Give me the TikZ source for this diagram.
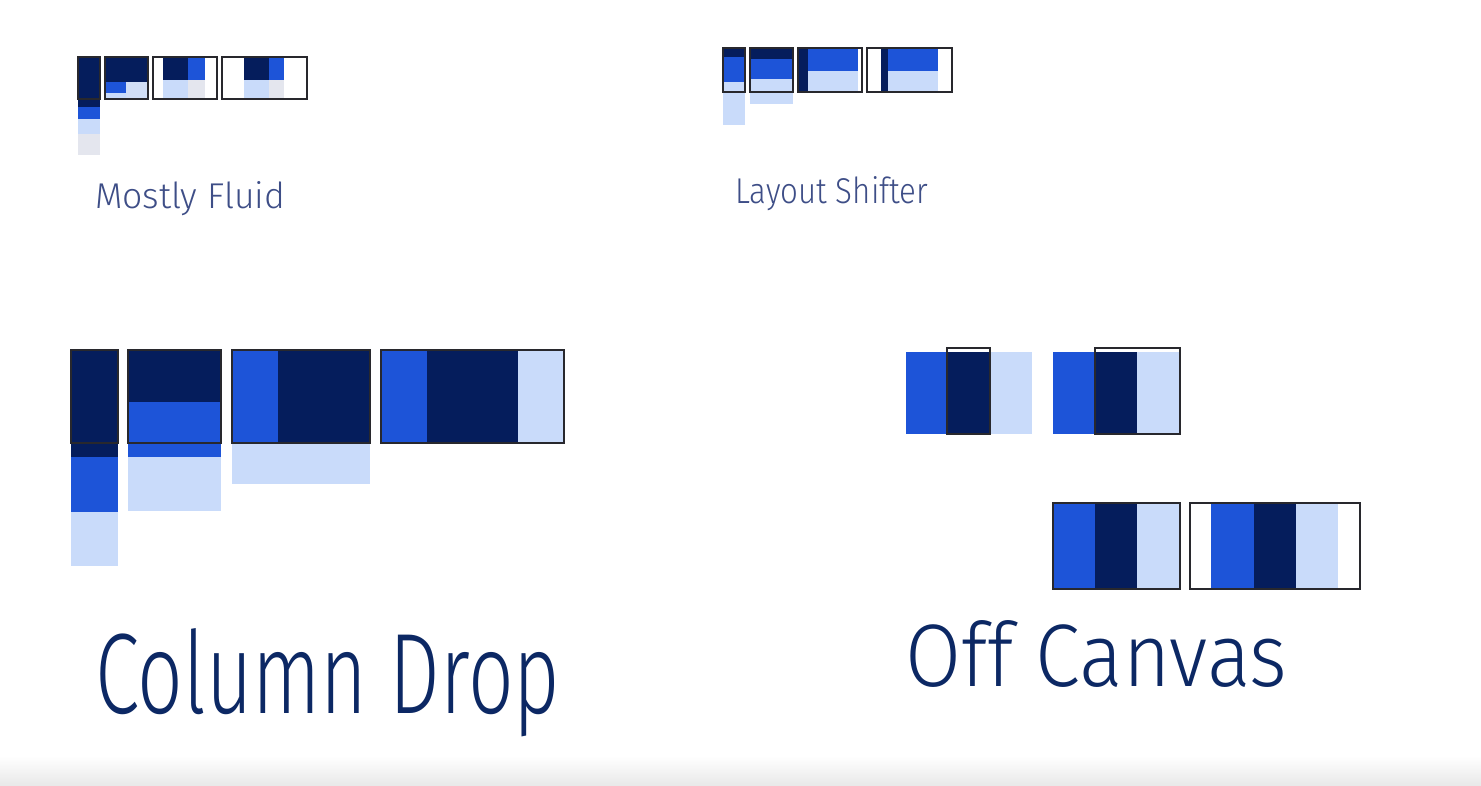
\documentclass[tikz,border=0pt]{standalone}
\usepackage{fontspec}
\usepackage{graphicx}
\newfontfamily\hand{Fira Sans Light}
\definecolor{navy}{RGB}{5,29,92}
\definecolor{mblue}{RGB}{29,84,216}
\definecolor{lblue}{RGB}{201,219,250}
\definecolor{lgrey}{RGB}{228,230,238}
\definecolor{frm}{RGB}{40,40,45}
\definecolor{inkS}{RGB}{62,78,135}
\definecolor{inkL}{RGB}{12,40,100}
\tikzset{
  nv/.style={fill=navy},
  bl/.style={fill=mblue},
  lb/.style={fill=lblue},
  gr/.style={fill=lgrey},
  lg/.style={fill=lblue!70!lgrey},
  frame/.style={draw=frm, line width=1.8pt},
  lab/.style={anchor=base west, inner sep=0pt},
}
\begin{document}
\begin{tikzpicture}[x=1pt,y=-1pt]
\fill[white] (0,0) rectangle (1481,786);
\useasboundingbox (0,0) rectangle (1481,786);
\shade[top color=white, bottom color=black!9] (0,756) rectangle (1481,786);

% ---------- Mostly Fluid ----------
\fill[nv] (78,57) rectangle (100,107);
\fill[bl] (78,107) rectangle (100,119);
\fill[lb] (78,119) rectangle (100,134);
\fill[gr] (78,134) rectangle (100,155);
\draw[frame] (78,57) rectangle (100,99);

\fill[nv] (105,57) rectangle (148,82);
\fill[bl] (105,82) rectangle (126,93);
\fill[lb] (105,93) rectangle (126,99);
\fill[lg] (126,82) rectangle (148,99);
\draw[frame] (105,57) rectangle (148,99);

\fill[nv] (163,57) rectangle (188,80);
\fill[bl] (188,57) rectangle (205,80);
\fill[lb] (163,80) rectangle (188,99);
\fill[gr] (188,80) rectangle (205,99);
\draw[frame] (153,57) rectangle (217,99);

\fill[nv] (244,57) rectangle (269,80);
\fill[bl] (269,57) rectangle (284,80);
\fill[lb] (244,80) rectangle (269,99);
\fill[gr] (269,80) rectangle (284,99);
\draw[frame] (222,57) rectangle (307,99);

\node[lab, text=inkS] (mf) at (95,209) {\hand\resizebox{190pt}{27pt}{Mostly Fluid}};

% ---------- Layout Shifter ----------
\fill[nv] (723,48) rectangle (745,57);
\fill[bl] (723,57) rectangle (745,82);
\fill[lb] (723,82) rectangle (745,125);
\draw[frame] (723,48) rectangle (745,92);

\fill[nv] (750,48) rectangle (793,59);
\fill[bl] (750,59) rectangle (793,79);
\fill[lb] (750,79) rectangle (793,104);
\draw[frame] (750,48) rectangle (793,92);

\fill[nv] (798,48) rectangle (808,92);
\fill[bl] (808,48) rectangle (858,71);
\fill[lb] (808,71) rectangle (858,92);
\draw[frame] (798,48) rectangle (862,92);

\fill[nv] (881,48) rectangle (888,92);
\fill[bl] (888,48) rectangle (938,71);
\fill[lb] (888,71) rectangle (938,92);
\draw[frame] (867,48) rectangle (952,92);

\node[lab, text=inkS] (ls) at (735,204) {\hand\resizebox{193pt}{27pt}{Layout Shifter}};

% ---------- Column Drop ----------
\fill[nv] (71,350) rectangle (118,457);
\fill[bl] (71,457) rectangle (118,512);
\fill[lb] (71,512) rectangle (118,566);
\draw[frame] (71,350) rectangle (118,443);

\fill[nv] (128,350) rectangle (221,402);
\fill[bl] (128,402) rectangle (221,457);
\fill[lb] (128,457) rectangle (221,511);
\draw[frame] (128,350) rectangle (221,443);

\fill[bl] (232,350) rectangle (278,443);
\fill[nv] (278,350) rectangle (370,443);
\fill[lb] (232,443) rectangle (370,484);
\draw[frame] (232,350) rectangle (370,443);

\fill[bl] (381,350) rectangle (427,443);
\fill[nv] (427,350) rectangle (518,443);
\fill[lb] (518,350) rectangle (564,443);
\draw[frame] (381,350) rectangle (564,443);

\node[lab, text=inkL] (cd) at (95,713) {\hand\resizebox{465pt}{85pt}{Column Drop}};

% ---------- Off Canvas ----------
\fill[bl] (906,352) rectangle (947,434);
\fill[nv] (947,352) rectangle (990,434);
\fill[lb] (990,352) rectangle (1032,434);
\draw[frame] (947,348) rectangle (990,434);

\fill[bl] (1053,352) rectangle (1095,434);
\fill[nv] (1095,352) rectangle (1137,434);
\fill[lb] (1137,352) rectangle (1180,434);
\draw[frame] (1095,348) rectangle (1180,434);

\fill[bl] (1053,503) rectangle (1095,589);
\fill[nv] (1095,503) rectangle (1137,589);
\fill[lb] (1137,503) rectangle (1180,589);
\draw[frame] (1053,503) rectangle (1180,589);

\fill[bl] (1211,503) rectangle (1254,589);
\fill[nv] (1254,503) rectangle (1296,589);
\fill[lb] (1296,503) rectangle (1338,589);
\draw[frame] (1190,503) rectangle (1360,589);

\node[lab, text=inkL] (oc) at (905,686) {\hand\resizebox{382pt}{66pt}{Off Canvas}};
\end{tikzpicture}
\end{document}
